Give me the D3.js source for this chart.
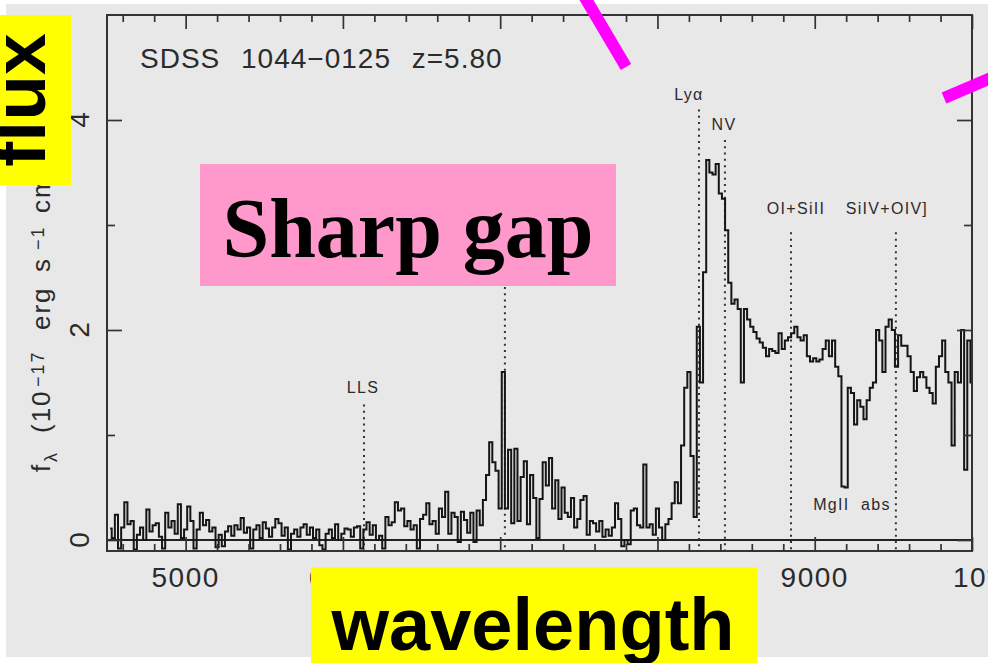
<!DOCTYPE html>
<html>
<head>
<meta charset="utf-8">
<style>
  body { margin: 0; background: #fff; }
  svg { display: block; }
  text { font-family: "Liberation Sans", Arial, sans-serif; fill: #2b2b2b; }
</style>
</head>
<body>
<script src="https://cdn.jsdelivr.net/npm/d3@7/dist/d3.min.js"></script>
<script>

// spectrum (Angstrom, 1e-17 erg/s/cm2/A)
var wave = [4520,4540,4560,4580,4600,4620,4640,4660,4680,4700,
  4720,4740,4760,4780,4800,4820,4840,4860,4880,4900,
  4920,4940,4960,4980,5000,5020,5040,5060,5080,5100,
  5120,5140,5160,5180,5200,5220,5240,5260,5280,5300,
  5320,5340,5360,5380,5400,5420,5440,5460,5480,5500,
  5520,5540,5560,5580,5600,5620,5640,5660,5680,5700,
  5720,5740,5760,5780,5800,5820,5840,5860,5880,5900,
  5920,5940,5960,5980,6000,6020,6040,6060,6080,6100,
  6120,6140,6160,6180,6200,6220,6240,6260,6280,6300,
  6320,6340,6360,6380,6400,6420,6440,6460,6480,6500,
  6520,6540,6560,6580,6600,6620,6640,6660,6680,6700,
  6720,6740,6760,6780,6800,6820,6840,6860,6880,6900,
  6920,6940,6960,6980,7000,7020,7040,7060,7080,7100,
  7120,7140,7160,7180,7200,7220,7240,7260,7280,7300,
  7320,7340,7360,7380,7400,7420,7440,7460,7480,7500,
  7520,7540,7560,7580,7600,7620,7640,7660,7680,7700,
  7720,7740,7760,7780,7800,7820,7840,7860,7880,7900,
  7920,7940,7960,7980,8000,8020,8040,8060,8080,8100,
  8120,8140,8160,8180,8200,8220,8240,8260,8280,8300,
  8320,8340,8360,8380,8400,8420,8440,8460,8480,8500,
  8520,8540,8560,8580,8600,8620,8640,8660,8680,8700,
  8720,8740,8760,8780,8800,8820,8840,8860,8880,8900,
  8920,8940,8960,8980,9000,9020,9040,9060,9080,9100,
  9120,9140,9160,9180,9200,9220,9240,9260,9280,9300,
  9320,9340,9360,9380,9400,9420,9440,9460,9480,9500,
  9520,9540,9560,9580,9600,9620,9640,9660,9680,9700,
  9720,9740,9760,9780,9800,9820,9840,9860,9880,9900,
  9920,9940,9960,9980,10000];

var flux = [0.11,0.02,0.24,-0.08,0.12,0.36,0.15,0.18,-0.09,0.05,
  0.12,0.0,0.29,0.08,0.14,0.16,0.03,-0.08,0.26,0.12,
  0.18,0.06,0.34,0.02,0.1,0.32,0.18,-0.08,0.1,0.26,
  0.14,0.19,0.08,0.12,-0.07,0.05,-0.06,0.08,0.13,0.04,
  0.14,0.1,0.21,0.07,0.12,-0.08,0.1,0.14,0.02,0.17,
  0.11,0.03,0.12,0.2,0.16,0.04,0.12,-0.09,0.06,0.1,
  0.03,0.12,0.15,0.05,0.12,0.02,0.1,-0.05,-0.09,0.06,
  0.1,0.02,0.15,0.0,0.06,0.11,0.1,0.03,0.12,0.13,
  -0.08,0.1,0.17,0.05,0.14,0.0,0.04,-0.08,0.22,0.14,
  0.17,0.36,0.28,0.3,0.13,0.18,0.1,0.14,-0.08,0.2,
  0.24,0.35,0.15,0.18,0.06,0.3,0.22,0.46,0.06,0.26,
  0.22,-0.02,0.27,0.19,0.07,0.26,-0.02,0.28,0.14,0.38,
  0.62,0.93,0.74,0.66,0.3,1.6,0.3,0.86,0.16,0.87,
  0.18,0.6,0.75,0.15,0.62,0.4,0.02,0.39,0.74,0.52,
  0.78,0.3,0.57,0.2,0.5,0.26,0.22,0.4,0.12,0.2,
  0.38,0.42,0.05,0.18,0.16,0.08,0.18,0.03,0.1,0.04,
  0.12,0.35,0.2,-0.06,0.0,-0.04,0.28,0.3,0.14,0.12,
  0.72,0.12,0.15,0.05,0.3,0.12,0.0,0.15,0.2,0.35,
  0.55,0.35,0.9,1.45,1.6,0.8,0.22,2.03,1.5,2.55,
  3.62,3.5,3.48,3.58,3.3,3.25,2.95,2.45,2.25,2.29,
  2.2,1.5,2.2,2.1,2.03,1.98,1.92,1.88,1.83,1.75,
  1.82,1.8,1.78,1.97,1.82,1.9,1.93,1.97,2.03,1.93,
  1.9,1.95,1.75,1.7,1.73,1.7,1.72,1.82,1.9,1.75,
  1.9,1.65,1.56,0.51,0.5,1.45,1.4,1.1,1.33,1.27,
  1.15,1.33,1.45,1.5,2.0,1.9,1.6,2.03,2.1,2.0,
  1.65,1.95,1.85,1.85,1.75,1.6,1.42,1.55,1.6,1.55,
  1.45,1.4,1.3,1.65,1.75,1.9,1.6,1.5,0.9,1.6,
  1.5,2.0,0.67,1.9,1.5];

var xTicks = [5000, 6000, 7000, 8000, 9000, 10000];
var xTickLabels = ["5000", "6000", "7000", "8000", "9000", "10"];
var yTicks = [0, 2, 4];
var yTickLabels = ["0", "2", "4"];

// identified lines (dotted markers)
var lineWaves = [6134, 7030, 8264, 8429, 8849, 9516];
var lineTops = [1.29, 2.95, 4.1, 3.81, 2.93, 2.93];

var labelNames = ["LLS", "Ly\u03b1", "NV", "OI+SiII", "SiIV+OIV]", "MgII  abs"];
var labelWaves = [6128, 8200, 8423, 8881, 9459, 9237];
var labelFlux = [1.4, 4.19, 3.9, 3.1, 3.1, 0.29];

var width = 988, height = 663;

var x = d3.scaleLinear().domain([4500, 10000]).range([107, 972]);
var y = d3.scaleLinear().domain([-0.105, 5]).range([551, 15]);

var svg = d3.select("body").append("svg")
    .attr("width", width)
    .attr("height", height);

svg.append("rect")
    .attr("x", 6).attr("y", 4)
    .attr("width", width - 6).attr("height", 653)
    .attr("fill", "#e8e8e8");

svg.append("clipPath").attr("id", "plotclip")
  .append("rect")
    .attr("x", 107).attr("y", 15)
    .attr("width", 865).attr("height", 536);

// zero line
svg.append("line")
    .attr("x1", x(4500)).attr("x2", x(10000))
    .attr("y1", y(0)).attr("y2", y(0))
    .attr("stroke", "#222").attr("stroke-width", 1.8);

// dotted line markers
svg.selectAll(".marker")
    .data(lineWaves)
  .enter().append("line")
    .attr("class", "marker")
    .attr("x1", function(d) { return x(d); })
    .attr("x2", function(d) { return x(d); })
    .attr("y1", function(d, i) { return y(lineTops[i]); })
    .attr("y2", y(-0.105))
    .attr("stroke", "#333")
    .attr("stroke-width", 2)
    .attr("stroke-dasharray", "2,4.3");

var line = d3.line()
    .x(function(d, i) { return x(wave[i]); })
    .y(function(d) { return y(d); })
    .curve(d3.curveStep);

svg.append("path")
    .datum(flux)
    .attr("clip-path", "url(#plotclip)")
    .attr("d", line)
    .attr("fill", "none")
    .attr("stroke", "#151515")
    .attr("stroke-width", 2)
    .attr("stroke-linejoin", "miter");

// frame + ticks
svg.append("rect")
    .attr("x", 107).attr("y", 15)
    .attr("width", 865).attr("height", 536)
    .attr("fill", "none")
    .attr("stroke", "#333")
    .attr("stroke-width", 2);

var xMinor = d3.range(4600, 10000, 200).filter(function(v) { return v % 1000 != 0; });
var yMinor = [1, 3];

function tickAxis(axis, values, size) {
  return axis.tickValues(values).tickSize(size).tickFormat("");
}

var tickGroups = [
  ["translate(0,551)", tickAxis(d3.axisTop(x), xTicks, 14)],
  ["translate(0,551)", tickAxis(d3.axisTop(x), xMinor, 7)],
  ["translate(0,15)", tickAxis(d3.axisBottom(x), xTicks, 14)],
  ["translate(0,15)", tickAxis(d3.axisBottom(x), xMinor, 7)],
  ["translate(107,0)", tickAxis(d3.axisRight(y), yTicks, 15)],
  ["translate(107,0)", tickAxis(d3.axisRight(y), yMinor, 8)],
  ["translate(972,0)", tickAxis(d3.axisLeft(y), yTicks, 15)],
  ["translate(972,0)", tickAxis(d3.axisLeft(y), yMinor, 8)]
];

tickGroups.forEach(function(t) {
  var g = svg.append("g").attr("transform", t[0]).call(t[1]);
  g.select(".domain").remove();
  g.selectAll("line").attr("stroke", "#333").attr("stroke-width", 1.7);
});

// tick labels
svg.selectAll(".xlab")
    .data(xTickLabels)
  .enter().append("text")
    .attr("class", "xlab")
    .attr("x", function(d, i) { return i == 5 ? x(xTicks[i]) - 19 : x(xTicks[i]); })
    .attr("y", 587)
    .attr("text-anchor", function(d, i) { return i == 5 ? "start" : "middle"; })
    .style("font-size", "28px")
    .style("letter-spacing", "1.5px")
    .text(function(d) { return d; })
  .filter(function(d, i) { return i == 5; })
  .append("tspan")
    .attr("dy", -12)
    .style("font-size", "19px")
    .text("4");

svg.selectAll(".ylab")
    .data(yTickLabels)
  .enter().append("text")
    .attr("class", "ylab")
    .attr("transform", function(d, i) { return "translate(89," + y(yTicks[i]) + ")rotate(-90)"; })
    .attr("text-anchor", "middle")
    .style("font-size", "28px")
    .text(function(d) { return d; });

// y axis title (rotated)
var yt = svg.append("g").attr("transform", "translate(50,472)rotate(-90)");
var ytParts = [
  ["f", 0, 0, 26], ["\u03bb", 10, 7, 18], ["(10", 39, 0, 26], ["\u221217", 85, -6, 18],
  ["erg", 142, 0, 26], ["s", 200, 0, 26], ["\u22121", 222, -6, 18], ["cm", 259, 0, 26],
  ["\u22122", 300, -6, 18], ["\u00c5", 332, 0, 26], ["\u22121", 352, -6, 18], [")", 378, 0, 26]
];
yt.selectAll("text")
    .data(ytParts)
  .enter().append("text")
    .attr("x", function(d) { return d[1]; })
    .attr("y", function(d) { return d[2]; })
    .style("font-size", function(d) { return d[3] + "px"; })
    .style("letter-spacing", "2px")
    .text(function(d) { return d[0]; });

// title
svg.append("text")
    .attr("x", 140).attr("y", 68)
    .style("font-size", "28px")
    .style("letter-spacing", "1px")
    .style("word-spacing", "12px")
    .text("SDSS 1044\u22120125 z=5.80");

// line labels
svg.selectAll(".lname")
    .data(labelNames)
  .enter().append("text")
    .attr("class", "lname")
    .attr("x", function(d, i) { return x(labelWaves[i]); })
    .attr("y", function(d, i) { return y(labelFlux[i]); })
    .attr("text-anchor", "middle")
    .attr("xml:space", "preserve")
    .style("font-size", "16px")
    .style("letter-spacing", "1.3px")
    .text(function(d) { return d; });

// overlays
svg.append("rect")
    .attr("x", 200).attr("y", 164)
    .attr("width", 416).attr("height", 122)
    .attr("fill", "#ff99cc");

svg.append("text")
    .attr("x", 408).attr("y", 257)
    .attr("text-anchor", "middle")
    .style("font-family", "'Liberation Serif', 'Times New Roman', serif")
    .style("font-weight", "bold")
    .style("font-size", "84px")
    .style("fill", "#000")
    .text("Sharp gap");

svg.append("rect")
    .attr("x", 0).attr("y", 15)
    .attr("width", 71).attr("height", 170)
    .attr("fill", "#ffff00");

svg.append("text")
    .attr("transform", "translate(45,100)rotate(-90)")
    .attr("text-anchor", "middle")
    .style("font-weight", "bold")
    .style("font-size", "75px")
    .style("fill", "#000")
    .text("flux");

svg.append("rect")
    .attr("x", 311).attr("y", 567)
    .attr("width", 446).attr("height", 96)
    .attr("fill", "#ffff00");

svg.append("text")
    .attr("x", 533).attr("y", 650)
    .attr("text-anchor", "middle")
    .style("font-weight", "bold")
    .style("font-size", "74px")
    .style("fill", "#000")
    .text("wavelength");

svg.append("line")
    .attr("x1", 577).attr("y1", -16)
    .attr("x2", 626).attr("y2", 67)
    .attr("stroke", "#ff00ff")
    .attr("stroke-width", 12);

svg.append("line")
    .attr("x1", 944).attr("y1", 98)
    .attr("x2", 1010).attr("y2", 70)
    .attr("stroke", "#ff00ff")
    .attr("stroke-width", 12);

</script>
</body>
</html>
